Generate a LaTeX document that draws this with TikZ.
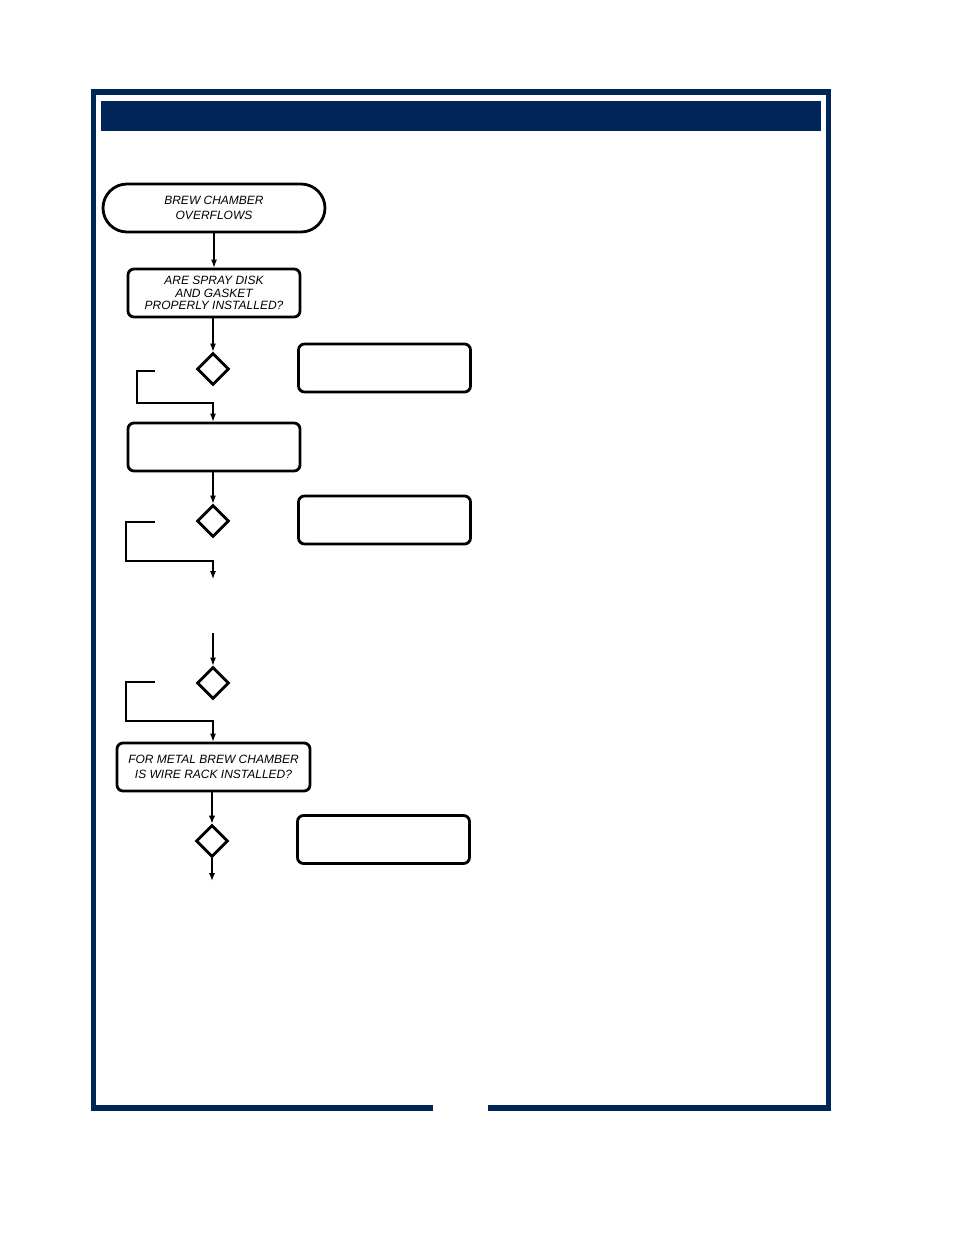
\documentclass[tikz,border=0pt]{standalone}
\usepackage{fontspec}
\setmainfont{Liberation Sans}
\usetikzlibrary{arrows.meta,shapes.geometric}
\definecolor{navy}{RGB}{0,37,89}
\tikzset{
  boxnode/.style={draw,line width=2.8pt,rounded corners=6pt,minimum width=172pt,minimum height=48pt,inner sep=0pt,align=center,font=\fontsize{12}{12.6}\selectfont\itshape},
  widebox/.style={boxnode,font=\fontsize{12}{15}\selectfont\itshape},
  decision/.style={draw,diamond,line width=2.8pt,minimum width=32pt,minimum height=32pt,inner sep=0pt},
  arr/.style={-{Latex[length=8pt,width=6pt]},line width=1.1pt},
  thickarr/.style={-{Latex[length=8pt,width=6.5pt]},line width=2.2pt}
}
\begin{document}
\begin{tikzpicture}[x=1pt,y=-1pt]
    \useasboundingbox (0,0) rectangle (954,1235);
    % frame and title bar
    \fill[navy] (91,89) rectangle (831,95);
    \fill[navy] (91,89) rectangle (96,1111);
    \fill[navy] (826,89) rectangle (831,1111);
    \fill[navy] (91,1105) rectangle (433,1111);
    \fill[navy] (488,1105) rectangle (831,1111);
    \fill[navy] (101,101) rectangle (821,131);
    % left column
    \node[widebox,rounded corners=24pt,minimum width=222pt] (start) at (214,208) {BREW CHAMBER\\OVERFLOWS};
    \node[boxnode] (b1) at (214,293) {ARE SPRAY DISK\\AND GASKET\\PROPERLY INSTALLED?};
    \node[decision] (d1) at (213,369) {};
    \node[boxnode] (b2) at (214,447) {};
    \node[decision] (d2) at (213,521) {};
    \node[decision] (d3) at (213,683) {};
    \node[widebox,minimum width=193pt] (b3) at (213.5,767) {FOR METAL BREW CHAMBER\\IS WIRE RACK INSTALLED?};
    \node[decision] (d4) at (212,841) {};
    % right column
    \node[boxnode] (r1) at (384.5,368) {};
    \node[boxnode] (r2) at (384.5,520) {};
    \node[boxnode] (r4) at (383.5,839.5) {};
    % loose ends
    \coordinate (l1) at (155,371);
    \coordinate (k1) at (137,403);
    \coordinate (l2) at (155,522);
    \coordinate (k2) at (126,561);
    \coordinate (e2) at (213,579);
    \coordinate (s3) at (213,633);
    \coordinate (l3) at (155,682);
    \coordinate (k3) at (126,721);
    \coordinate (e4) at (212,881);
    % connectors
    \draw[arr] (start) -- (b1);
    \draw[arr] (b1.south -| d1.north) -- (d1.north);
    \draw[arr] (l1) -| (k1) -| (b2.north -| d1);
    \draw[arr] (b2.south -| d2.north) -- (d2.north);
    \draw[arr] (l2) -| (k2) -| (e2);
    \draw[arr] (s3) -- (d3.north);
    \draw[arr] (l3) -| (k3) -| (b3.north -| d3);
    \draw[thickarr] (b3.south -| d4.north) -- (d4.north);
    \draw[thickarr] (d4.south) -- (e4);
\end{tikzpicture}
\end{document}
